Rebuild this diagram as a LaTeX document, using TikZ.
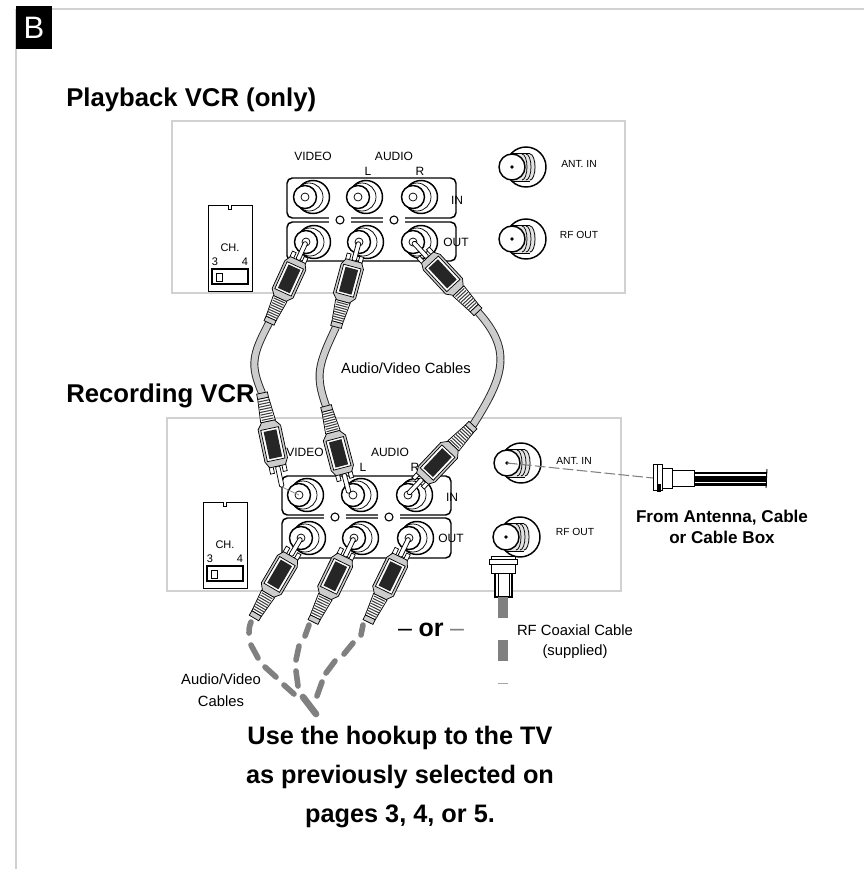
\documentclass[tikz,border=0pt]{standalone}
\usepackage{fontspec}
\setmainfont{Liberation Sans}
\usetikzlibrary{calc}
\definecolor{framegray}{gray}{0.82}
\definecolor{plugGray}{gray}{0.8}
\definecolor{dashGray}{gray}{0.5}
\newcommand{\fpx}[1]{\pgfmathsetmacro\fpxa{#1*0.75}\pgfmathsetmacro\fpxb{#1*0.9}\fontsize{\fpxa}{\fpxb}\selectfont}
\newcommand{\jackrca}[2]{%
 \begin{scope}[shift={(#1,#2)}]
  \draw[jackthick,fill=white] (8,0) circle (16.5);
  \draw[jackthin] (4,0) circle (14);
  \draw[jackthick,fill=white] (0,0) circle (11.5);
  \draw[jackthin] (0,0) circle (4);
 \end{scope}}
\newcommand{\jackant}[2]{%
 \begin{scope}[shift={(#1,#2)}]
  \draw[jackthick,fill=white] (14,0) circle (20);
  \fill[gray!22] (0,-14) -- (18,-14) arc (-90:90:6 and 14) -- (0,14) -- cycle;
  \draw[jackthin] (0,-14) -- (18,-14) (0,14) -- (18,14);
  \draw[jackthin] (10,-13) arc (-90:90:5 and 13);
  \draw[jackthin] (14,-13) arc (-90:90:5 and 13);
  \draw[jackthin] (18,-13) arc (-90:90:5 and 13);
  \draw[jackthick,fill=white] (0,0) circle (13);
  \fill (0,0) circle (1.8);
 \end{scope}}
\newcommand{\plug}[2]{%
 \pgfmathanglebetweenpoints{\pgfpointanchor{#1}{center}}{\pgfpointanchor{#2}{center}}%
 \let\plugang\pgfmathresult
 \pgfpointdiff{\pgfpointanchor{#1}{center}}{\pgfpointanchor{#2}{center}}%
 \pgfgetlastxy{\plugdx}{\plugdy}%
 \pgfmathsetmacro\pluglen{veclen(\plugdx,\plugdy)/0.75/90}%
 \begin{scope}[shift={(#1)},rotate=\plugang,xscale=\pluglen,yscale=-1]
  \draw[jackthin,fill=white,rounded corners=1] (0,-2.2) rectangle (20,2.2);
  \draw[jackthin,fill=white] (14,-8.5) rectangle (24,-4.5) (14,8.5) rectangle (24,4.5);
  \draw[jackthin,fill=plugGray] (20,-8) -- (26,-11.5) -- (57,-11.5) -- (63,-6.5) -- (63,6.5) -- (57,11.5) -- (26,11.5) -- (20,8) -- cycle;
  \draw[jackthin,fill=white] (26,-9) rectangle (56,9);
  \fill[black!85] (28,-6.5) rectangle (54,6.5);
  \draw[jackthin,fill=white] (63,-7.5) -- (85,-5.5) -- (85,5.5) -- (63,7.5) -- cycle;
  \foreach \r in {65,67.5,...,84} {\draw[line width=.8pt,black!75] (\r,-6) -- (\r,6);}
  \draw[jackthin,fill=plugGray] (85,-5.5) rectangle (90,5.5);
 \end{scope}}
\tikzset{
 jackthick/.style={line width=1.1pt,draw=black},
 jackthin/.style={line width=.55pt,draw=black},
 panelbox/.style={line width=1.1pt,draw=black,rounded corners=4,fill=white},
 backpanel/.style={line width=1.2pt,draw=framegray},
 lab/.style={font=\fpx{12},inner sep=0},
 smalllab/.style={font=\fpx{10.3},inner sep=0},
 midlab/.style={font=\fpx{14.8},inner sep=0,align=center},
 boldhead/.style={font=\fpx{25.7}\bfseries,inner sep=0,anchor=west},
 boldmid/.style={font=\fpx{17.1}\bfseries,inner sep=0,align=center},
 cableout/.style={line width=6pt,draw=black!85},
 cablein/.style={line width=4.6pt,draw=plugGray},
 dashcable/.style={line width=4.2pt,draw=dashGray,line cap=round},
 chbox/.style={line width=.7pt,draw=black,fill=white},
}
\newcommand{\chswitch}[2]{%
 \begin{scope}[shift={(#1,#2)}]
  \draw[chbox] (0,0) -- (20,0) -- (20,4) -- (23,4) -- (23,0) -- (44,0) -- (44,86) -- (0,86) -- cycle;
  \node[lab,font=\fpx{11}] at (22,43) {CH.};
  \node[lab,font=\fpx{11}] at (7,57) {3};
  \node[lab,font=\fpx{11}] at (37,57) {4};
  \draw[line width=1.2pt,fill=white] (4,64) rectangle (40,79);
  \draw[line width=.6pt] (8,68) rectangle (14,76);
 \end{scope}}
\begin{document}
\begin{tikzpicture}[x=.75pt,y=-.75pt]
\useasboundingbox (0,0) rectangle (864,869);
% frame
\draw[line width=2pt,draw=framegray] (16,9) -- (864,9);
\draw[line width=1.5pt,draw=framegray] (16,9) -- (16,869);
\fill[black] (16,6) rectangle (52,48.5);
\node[font=\fpx{31},text=white,inner sep=0] (badge) at (34,27.5) {B};
\node[boldhead] (hplay) at (66,100) {Playback VCR (only)};
\node[boldhead] (hrec) at (66,396) {Recording VCR};
% back panels
\draw[backpanel] (172,121) rectangle (625,293);
\draw[backpanel] (167,418) rectangle (621,591);
% top deck
\chswitch{208}{205}
\draw[panelbox] (287,178) rectangle (456,218);
\draw[panelbox] (287,222) rectangle (456,261);
\foreach \cx in {340,394} {\fill[white] (\cx-11,215) rectangle (\cx+11,225); \draw[jackthin,line width=.8pt,fill=white] (\cx,220) circle (4);}
\foreach \cx in {305,358,413} {\jackrca{\cx}{197}}
\foreach \cx in {306,359,413} {\jackrca{\cx}{242}}
\node[lab] (tvideo) at (313,156) {VIDEO};
\node[lab] (taudio) at (394,156) {AUDIO};
\node[lab] (tl) at (368,171) {L};
\node[lab] (tr) at (420,171) {R};
\node[lab] (tin) at (457,200) {IN};
\node[lab] (tout) at (456,242) {OUT};
\jackant{512}{167}
\jackant{512}{239}
\node[smalllab] (tant) at (579,164) {ANT. IN};
\node[smalllab] (trf) at (579,235) {RF OUT};
% bottom deck
\chswitch{203}{502}
\draw[panelbox] (282,476) rectangle (451,515);
\draw[panelbox] (282,518) rectangle (451,558);
\foreach \cx in {335,389} {\fill[white] (\cx-11,512) rectangle (\cx+11,522); \draw[jackthin,line width=.8pt,fill=white] (\cx,517) circle (4);}
\foreach \cx in {299,353,408} {\jackrca{\cx}{495}}
\foreach \cx in {301,354,409} {\jackrca{\cx}{538}}
\node[lab] (bvideo) at (305,452) {VIDEO};
\node[lab] (baudio) at (390,452) {AUDIO};
\node[lab] (bl) at (363,467) {L};
\node[lab] (br) at (415,467) {R};
\node[lab] (bin) at (452,497) {IN};
\node[lab] (bout) at (451,538) {OUT};
\jackant{507}{463}
\jackant{506}{537}
\node[smalllab] (bant) at (574,461) {ANT. IN};
\node[smalllab] (brf) at (575,532) {RF OUT};
% plug anchor points
\coordinate (t1) at (306,242); \coordinate (e1) at (269,323);
\coordinate (t2) at (359,242); \coordinate (e2) at (336,327);
\coordinate (t3) at (413,242); \coordinate (e3) at (478,312);
\coordinate (u1) at (282,487); \coordinate (f1) at (262,393);
\coordinate (u2) at (349,493); \coordinate (f2) at (326,406);
\coordinate (u3) at (408,494); \coordinate (f3) at (473,425);
\coordinate (o1) at (301,538); \coordinate (g1) at (254,618);
\coordinate (o2) at (354,538); \coordinate (g2) at (313,622);
\coordinate (o3) at (409,538); \coordinate (g3) at (368,622);
\coordinate (j1) at (299,495);
% cables
\foreach \st in {cableout,cablein}{
 \draw[\st] (e1) .. controls (252,355) and (250,365) .. (f1);
 \draw[\st] (e2) .. controls (318,365) and (315,375) .. (f2);
 \draw[\st] (e3) .. controls (512,350) and (505,375) .. (f3);
}
\draw[line width=.5pt,draw=gray] (u1) -- (j1);
\plug{t1}{e1}\plug{t2}{e2}\plug{t3}{e3}
\plug{u1}{f1}\plug{u2}{f2}\plug{u3}{f3}
\plug{o1}{g1}\plug{o2}{g2}\plug{o3}{g3}
% dashed continuations
\draw[dashcable] (251,622) .. controls (249,627) and (249,630) .. (249,633);
\draw[dashcable] (251,645) -- (258,658);
\draw[dashcable] (265,667) -- (276,677);
\draw[dashcable] (284,685) -- (294,694);
\draw[dashcable,line width=5pt] (303,697) -- (316,714);
\draw[dashcable] (309,625) -- (305,636);
\draw[dashcable] (299,646) -- (296,660);
\draw[dashcable] (296,671) -- (298,686);
\draw[dashcable] (363,625) -- (361,635);
\draw[dashcable] (353,643) -- (344,654);
\draw[dashcable] (335,661) -- (326,673);
\draw[dashcable] (322,682) -- (317,696);
% antenna cable
\coordinate (jant) at (507,463);
\coordinate (cable) at (653,478);
\draw[line width=.8pt,draw=gray,dash pattern=on 8pt off 2.5pt] (jant) -- (cable);
\fill[black] (694,472) rectangle (767,486);
\draw[line width=.8pt,white] (694,475) -- (766,475);
\draw[line width=.7pt,white] (694,482.5) -- (766,482.5);
\draw[line width=.7pt] (767,469) -- (766,488);
\draw[jackthin,fill=white] (671,470) rectangle (694,486);
\draw[jackthin,fill=white] (662,468) rectangle (672,488);
\draw[jackthin,fill=white] (653,464) rectangle (662,490);
\draw[jackthin] (657,464) -- (657,490);
\fill[black] (657,484) rectangle (661,492);
\node[boldmid] (from) at (722,527) {From Antenna, Cable\\[0.75pt]or Cable Box};
% RF coax
\draw[jackthick,fill=white] (495,573) rectangle (512,597);
\draw[jackthin] (498,573) -- (498,597) (509,573) -- (509,597);
\draw[jackthin,fill=white] (491,556) rectangle (515,573);
\draw[jackthin,fill=white] (489,559) rectangle (517,564);
\fill[dashGray] (498,597) rectangle (508,618);
\fill[dashGray] (498,640) rectangle (508,661);
\fill[gray!70] (498,682.5) rectangle (508,683.5);
\node[midlab] (rfc) at (575,630) {RF Coaxial Cable};
\node[midlab] (sup) at (575,652) {(supplied)};
% texts
\node[midlab] (avtop) at (406,368) {Audio/Video Cables};
\node[midlab] (avbot) at (221,690) {Audio/Video\\[3.5pt]Cables};
\node[inner sep=0,font=\fpx{25}] (dashl) at (405,633) {–};
\node[inner sep=0,font=\fpx{25}\bfseries] (ortext) at (431,630) {or};
\node[inner sep=0,font=\fpx{25},text=gray] (dashr) at (457,633) {–};
\node[font=\fpx{25.3}\bfseries,inner sep=0,align=center] (use) at (400,777) {Use the hookup to the TV\\[6.25pt]as previously selected on\\[6.25pt]pages 3, 4, or 5.};
\end{tikzpicture}
\end{document}
